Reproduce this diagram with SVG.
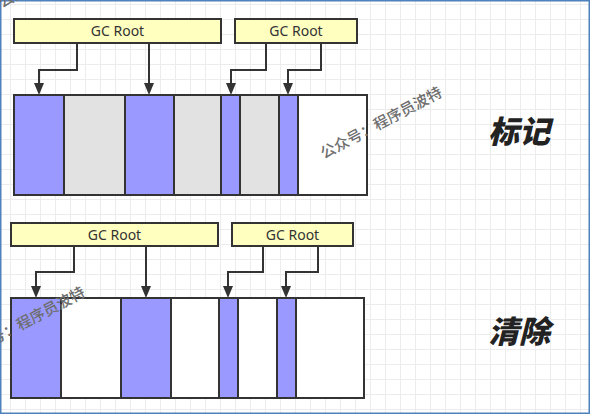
<svg xmlns="http://www.w3.org/2000/svg" width="590" height="415" viewBox="0 0 590 415">
<style>
.root{fill:#ffffc0;stroke:#333;stroke-width:2}
.rt{font-family:"Noto Sans","Liberation Sans",sans-serif;font-size:14px;fill:#333;text-anchor:middle}
.cell{stroke:#333;stroke-width:2}
.live{fill:#9999ff}
.dead{fill:#e2e2e2}
.free{fill:#ffffff}
.conn{fill:none;stroke:#333;stroke-width:2}
.lab{font-family:"Noto Sans CJK SC","Noto Sans",sans-serif;font-size:31px;font-weight:900;font-style:italic;fill:#222;text-anchor:middle}
.wm{font-family:"Noto Sans CJK SC","Noto Sans",sans-serif;font-size:15px;font-weight:500;fill:#6e6e6e}
</style>
<defs>
<pattern id="grid" x="10" y="4" width="15" height="15" patternUnits="userSpaceOnUse">
<path d="M0.5 0V15M0 0.5H15" stroke="#ececec" stroke-width="1" fill="none"/>
</pattern>
</defs>
<rect x="0" y="0" width="590" height="415" fill="#ffffff"/>
<rect x="0" y="0" width="590" height="414" fill="url(#grid)"/>
<rect x="0.75" y="0.75" width="588.5" height="412.5" fill="none" stroke="#4f81bd" stroke-width="1.5"/>

<g id="connectors">
<path class="conn" d="M77 43V70H39V85"/>
<path class="conn" d="M149 43V85"/>
<path class="conn" d="M266 43V70H231V85"/>
<path class="conn" d="M321 43V70H288V85"/>
<path class="conn" d="M74 246V272H36V288"/>
<path class="conn" d="M146 246V288"/>
<path class="conn" d="M263 246V272H228V288"/>
<path class="conn" d="M318 246V272H286V288"/>
<path d="M34 83H44L39 95Z" fill="#333"/>
<path d="M144 83H154L149 95Z" fill="#333"/>
<path d="M226 83H236L231 95Z" fill="#333"/>
<path d="M283 83H293L288 95Z" fill="#333"/>
<path d="M31 286H41L36 298Z" fill="#333"/>
<path d="M141 286H151L146 298Z" fill="#333"/>
<path d="M223 286H233L228 298Z" fill="#333"/>
<path d="M281 286H291L286 298Z" fill="#333"/>
</g>

<g id="mark-root1"><rect class="root" x="14" y="19" width="207" height="24"/><text class="rt" x="117.5" y="36">GC Root</text></g>
<g id="mark-root2"><rect class="root" x="235" y="19" width="122" height="24"/><text class="rt" x="296" y="36">GC Root</text></g>

<g id="mark-heap">
<rect class="cell live" x="14" y="95" width="50" height="100"/>
<rect class="cell dead" x="64" y="95" width="61" height="100"/>
<rect class="cell live" x="125" y="95" width="49" height="100"/>
<rect class="cell dead" x="174" y="95" width="47" height="100"/>
<rect class="cell live" x="221" y="95" width="19" height="100"/>
<rect class="cell dead" x="240" y="95" width="39" height="100"/>
<rect class="cell live" x="279" y="95" width="19" height="100"/>
<rect class="cell free" x="298" y="95" width="69" height="100"/>
</g>

<g id="sweep-root1"><rect class="root" x="11" y="223" width="207" height="23"/><text class="rt" x="114.5" y="239.5">GC Root</text></g>
<g id="sweep-root2"><rect class="root" x="232" y="223" width="121" height="23"/><text class="rt" x="292.5" y="239.5">GC Root</text></g>

<g id="sweep-heap">
<rect class="cell live" x="11" y="298" width="50" height="100"/>
<rect class="cell free" x="61" y="298" width="60" height="100"/>
<rect class="cell live" x="121" y="298" width="50" height="100"/>
<rect class="cell free" x="171" y="298" width="48" height="100"/>
<rect class="cell live" x="219" y="298" width="19" height="100"/>
<rect class="cell free" x="238" y="298" width="39" height="100"/>
<rect class="cell live" x="277" y="298" width="19" height="100"/>
<rect class="cell free" x="296" y="298" width="68" height="100"/>
</g>

<g id="label-mark"><text class="lab" x="519" y="143">标记</text></g>
<g id="label-sweep"><text class="lab" x="519" y="343">清除</text></g>

<text class="wm" transform="translate(324,159) rotate(-28)">公众号：程序员波特</text>
<text class="wm" transform="translate(-33,359) rotate(-28)">公众号：程序员波特</text>
<text class="wm" transform="translate(2,8) rotate(-28)">公众号：程序员波特</text>
</svg>
